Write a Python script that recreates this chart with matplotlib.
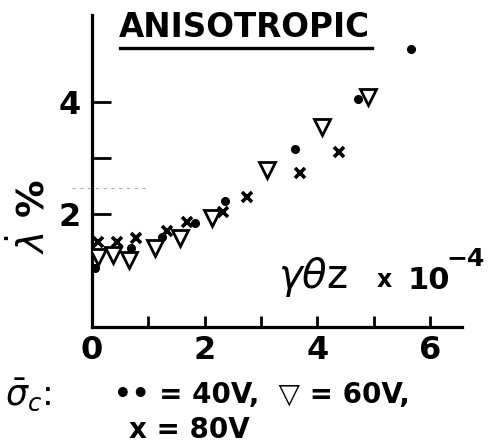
import matplotlib
matplotlib.use("Agg")
import matplotlib.pyplot as plt

# strain gamma_theta_z (x 1e-4) and lambda (%) per confining stress
x_40 = [0.05, 0.70, 1.24, 1.83, 2.37, 3.61, 4.73, 5.66]
y_40 = [1.03, 1.38, 1.59, 1.84, 2.23, 3.16, 4.04, 4.93]

x_60 = [0.10, 0.37, 0.66, 1.12, 1.56, 2.13, 3.10, 4.08, 4.90]
y_60 = [1.23, 1.26, 1.17, 1.38, 1.56, 1.93, 2.78, 3.55, 4.09]

x_80 = [0.11, 0.44, 0.79, 1.33, 1.68, 2.33, 2.75, 3.69, 4.38]
y_80 = [1.50, 1.50, 1.56, 1.70, 1.85, 2.03, 2.29, 2.72, 3.10]

xticks = [0, 2, 4, 6]
yticks = [2, 4]

fam = ["DejaVu Sans"]

fig = plt.figure(figsize=(4.92, 4.46), dpi=100)
ax = fig.add_axes([0.187, 0.267, 0.752, 0.70])

ax.plot(x_60, y_60, linestyle="none", marker="v", ms=12, mfc="white",
        mec="black", mew=2.0, zorder=3)
ax.plot(x_80, y_80, linestyle="none", marker="x", ms=7, mec="black",
        mew=2.6, zorder=4)
ax.plot(x_40, y_40, linestyle="none", marker="o", ms=5.5, mfc="black",
        mec="black", zorder=5)

ax.set_xlim(0, 6.57)
ax.set_ylim(-0.02, 5.55)

for side in ["top", "right"]:
    ax.spines[side].set_visible(False)
for side in ["left", "bottom"]:
    ax.spines[side].set_linewidth(2.3)

ax.set_xticks(range(0, 7))
ax.set_xticklabels([str(t) if t in xticks else "" for t in range(0, 7)],
                   fontsize=23, family=fam, fontweight="bold")
ax.set_yticks([2, 3, 4])
ax.set_yticklabels([str(t) if t in yticks else "" for t in [2, 3, 4]],
                   fontsize=23, family=fam, fontweight="bold")
ax.tick_params(axis="x", direction="in", length=8, width=2.0, pad=6)
ax.tick_params(axis="y", direction="in", length=14, width=2.0, pad=8)

# faint dashed line left of the axis
ax.plot([-0.35, 1.0], [2.45, 2.45], color="#aaaaaa", lw=0.8,
        linestyle=(0, (3, 4)), clip_on=False)

fig.text(0.242, 0.938, "ANISOTROPIC", fontsize=23.5, family=fam,
         fontweight="bold", va="center")
fig.add_artist(plt.Line2D([0.243, 0.757], [0.892, 0.892], color="black",
                          lw=2.4, transform=fig.transFigure))

fig.text(0.565, 0.378, r"$\gamma\theta$z", fontsize=29, family=fam,
         va="center")
fig.text(0.765, 0.372, "x", fontsize=17, family=fam, fontweight="bold",
         va="center")
fig.text(0.828, 0.372, "10", fontsize=22, family=fam, fontweight="bold",
         va="center")
fig.text(0.908, 0.42, "\u22124", fontsize=18, family=fam, fontweight="bold",
         va="center")

fig.text(0.062, 0.515, r"$\dot{\lambda}$ %", rotation=90, fontsize=27,
         family=fam, fontweight="bold", ha="center", va="center")

fig.text(0.01, 0.115, r"$\bar{\sigma}_c$:", fontsize=25, family=fam,
         va="center")
fig.text(0.232, 0.115, "\u2022\u2022 = 40V,  \u25bd = 60V,", fontsize=20,
         family=fam, fontweight="bold", va="center")
fig.text(0.262, 0.035, "x = 80V", fontsize=20, family=fam,
         fontweight="bold", va="center")

fig.savefig("out.png", dpi=100)
